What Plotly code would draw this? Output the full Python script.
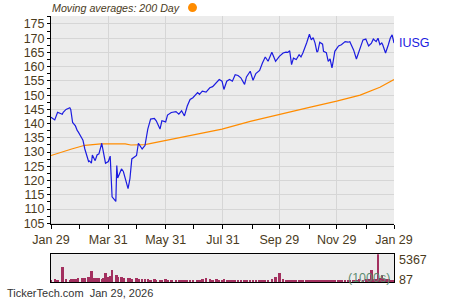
import plotly.graph_objects as go

price_dates = [
    "2025-01-29", "2025-02-02", "2025-02-05", "2025-02-10", "2025-02-11", "2025-02-14", "2025-02-18",
    "2025-02-19", "2025-02-21", "2025-02-24", "2025-02-26", "2025-02-27", "2025-03-03", "2025-03-04",
    "2025-03-06", "2025-03-10", "2025-03-11", "2025-03-13", "2025-03-14", "2025-03-17", "2025-03-19",
    "2025-03-21", "2025-03-24", "2025-03-26", "2025-03-28", "2025-03-31", "2025-04-02", "2025-04-04",
    "2025-04-08", "2025-04-09", "2025-04-10", "2025-04-14", "2025-04-16", "2025-04-21", "2025-04-23",
    "2025-04-25", "2025-04-30", "2025-05-02", "2025-05-06", "2025-05-09", "2025-05-12", "2025-05-15",
    "2025-05-19", "2025-05-21", "2025-05-25", "2025-05-27", "2025-05-31", "2025-06-02", "2025-06-06",
    "2025-06-11", "2025-06-14", "2025-06-17", "2025-06-20", "2025-06-23", "2025-06-26", "2025-06-29",
    "2025-07-04", "2025-07-06", "2025-07-09", "2025-07-13", "2025-07-17", "2025-07-20", "2025-07-24",
    "2025-07-27", "2025-07-30", "2025-08-01", "2025-08-04", "2025-08-07", "2025-08-10", "2025-08-13",
    "2025-08-16", "2025-08-19", "2025-08-23", "2025-08-25", "2025-08-29", "2025-09-01", "2025-09-04",
    "2025-09-08", "2025-09-11", "2025-09-14", "2025-09-17", "2025-09-21", "2025-09-25", "2025-09-29",
    "2025-10-03", "2025-10-06", "2025-10-08", "2025-10-10", "2025-10-12", "2025-10-14", "2025-10-17",
    "2025-10-20", "2025-10-22", "2025-10-24", "2025-10-28", "2025-10-31", "2025-11-02", "2025-11-04",
    "2025-11-06", "2025-11-08", "2025-11-09", "2025-11-11", "2025-11-14", "2025-11-15", "2025-11-18",
    "2025-11-20", "2025-11-22", "2025-11-24", "2025-11-25", "2025-11-27", "2025-12-01", "2025-12-04",
    "2025-12-08", "2025-12-11", "2025-12-13", "2025-12-17", "2025-12-20", "2025-12-23", "2025-12-27",
    "2025-12-30", "2026-01-02", "2026-01-05", "2026-01-07", "2026-01-10", "2026-01-12", "2026-01-14",
    "2026-01-16", "2026-01-17", "2026-01-20", "2026-01-23", "2026-01-25", "2026-01-27", "2026-01-29",
]
prices = [
    142.2, 141.3, 144.0, 143.3, 144.0, 145.0, 145.6,
    145.0, 140.4, 139.2, 137.5, 137.1, 134.8, 134.2,
    131.1, 126.7, 126.9, 126.1, 129.0, 127.0, 129.0,
    129.4, 133.1, 130.0, 126.1, 126.7, 128.6, 114.3,
    112.7, 125.3, 120.9, 124.1, 123.2, 117.2, 120.7,
    127.6, 128.8, 133.1, 131.1, 132.3, 138.1, 141.6,
    141.8, 141.0, 138.1, 141.0, 140.6, 143.0, 143.9,
    144.2, 143.3, 144.5, 142.7, 146.2, 148.5, 149.1,
    150.9, 150.3, 151.4, 151.1, 152.6, 153.0, 154.3,
    155.5, 154.9, 152.0, 154.9, 155.5, 154.9, 157.2,
    156.9, 156.1, 153.8, 156.4, 158.4, 155.2, 157.6,
    158.7, 161.3, 163.4, 161.9, 165.1, 161.9, 163.6,
    164.8, 165.1, 165.0, 165.6, 160.7, 163.0, 162.5,
    164.2, 163.4, 164.8, 168.3, 171.4, 169.4, 170.2,
    168.3, 165.1, 165.4, 168.6, 167.9, 165.4, 164.9,
    161.9, 162.7, 159.6, 161.3, 165.4, 167.3, 167.7,
    168.8, 168.6, 168.8, 165.9, 162.7, 165.9, 169.4,
    169.7, 167.3, 168.3, 169.7, 168.8, 170.0, 167.7,
    168.3, 167.7, 164.8, 167.7, 170.0, 171.2, 168.3,
]

ma_dates = [
    "2025-01-29", "2025-02-07", "2025-02-20", "2025-03-06", "2025-03-23", "2025-04-18",
    "2025-04-24", "2025-05-09", "2025-05-30", "2025-06-20", "2025-07-06", "2025-07-30",
    "2025-08-29", "2025-09-29", "2025-10-31", "2025-11-29", "2025-12-24", "2026-01-14",
    "2026-01-29",
]
ma_values = [
    128.8, 129.8, 131.1, 132.4, 132.9, 132.9,
    132.5, 132.6, 134.0, 135.5, 136.6, 138.1,
    140.8, 143.3, 145.7, 147.9, 150.0, 152.8,
    155.5,
]

volumes = [
    250, 450, 400, 2900, 500, 450, 400,
    500, 550, 600, 500, 650, 700, 650,
    800, 900, 750, 2100, 800, 700, 650,
    750, 600, 800, 1700, 900, 1200, 2300,
    1400, 1300, 1000, 900, 700, 800, 650,
    600, 700, 500, 550, 450, 500, 400,
    450, 400, 350, 400, 450, 400, 350,
    400, 350, 400, 350, 400, 350, 400,
    350, 400, 450, 800, 450, 400, 500,
    400, 350, 500, 400, 350, 300, 350,
    300, 300, 350, 300, 300, 250, 300,
    350, 300, 350, 400, 500, 900, 1700,
    600, 300, 250, 300, 250, 300, 250,
    350, 300, 300, 250, 350, 300, 300,
    350, 300, 400, 350, 300, 350, 300,
    350, 400, 350, 300, 350, 400, 350,
    400, 350, 400, 350, 400, 450, 400,
    500, 450, 2200, 600, 500, 5367, 700,
    1300, 600, 500, 450, 400, 350, 300,
]

x_tick_vals = ["2025-01-29", "2025-03-31", "2025-05-31", "2025-07-31", "2025-09-29", "2025-11-29", "2026-01-29"]
x_tick_text = ["Jan 29", "Mar 31", "May 31", "Jul 31", "Sep 29", "Nov 29", "Jan 29"]
x_minor_vals = ["2025-02-28", "2025-04-30", "2025-06-30", "2025-08-31", "2025-10-31", "2025-12-31"]
y_tick_vals = [105, 110, 115, 120, 125, 130, 135, 140, 145, 150, 155, 160, 165, 170, 175]
vol_labels = ["5367", "87"]

TXT = "#4a3b1c"
FONT = "Liberation Sans, Arial, sans-serif"
DAY_MS = 86400000

fig = go.Figure()
fig.add_trace(go.Scatter(x=ma_dates, y=ma_values, mode="lines",
                         line=dict(color="#ff8c00", width=1.2), xaxis="x", yaxis="y",
                         hoverinfo="skip"))
fig.add_trace(go.Scatter(x=price_dates, y=prices, mode="lines",
                         line=dict(color="#1c1ce0", width=1.2), xaxis="x", yaxis="y"))
fig.add_trace(go.Bar(x=price_dates, y=volumes, marker=dict(color="#a3305f", line=dict(width=0)),
                     width=2.6 * DAY_MS, xaxis="x2", yaxis="y2"))

xr = ["2025-01-29", "2026-01-29"]
fig.update_layout(
    width=450, height=300,
    margin=dict(l=51, r=56, t=16, b=16),
    paper_bgcolor="white", plot_bgcolor="#ececec",
    showlegend=False,
    font=dict(family=FONT, size=12, color=TXT),
    bargap=0,
    xaxis=dict(domain=[0, 1], anchor="y", type="date", range=xr,
               tickmode="array", tickvals=x_tick_vals, ticktext=x_tick_text,
               ticks="outside", ticklen=4, tickcolor="black", tickwidth=1,
               showgrid=True, gridcolor="#d6d6d6", gridwidth=1,
               showline=True, linecolor="black", linewidth=1,
               tickfont=dict(size=12.5, color=TXT),
               minor=dict(tickmode="array", tickvals=x_minor_vals, ticks="outside",
                          ticklen=4, tickcolor="black", showgrid=False),
               zeroline=False),
    yaxis=dict(domain=[0.2164, 1], anchor="x", range=[104.6, 177.8],
               tickmode="array", tickvals=y_tick_vals,
               ticks="outside", ticklen=3, tickcolor="black",
               showgrid=True, gridcolor="#d6d6d6", gridwidth=1,
               showline=True, linecolor="black", linewidth=1,
               tickfont=dict(size=12.5, color=TXT),
               minor=dict(dtick=2.5, tick0=105, ticks="outside", ticklen=3,
                          tickcolor="black", showgrid=False),
               zeroline=False),
    xaxis2=dict(domain=[0, 1], anchor="y2", type="date", range=xr,
                showticklabels=False, ticks="", showgrid=False,
                showline=True, linecolor="black", linewidth=1, mirror=True,
                zeroline=False),
    yaxis2=dict(domain=[0, 0.1045], anchor="x2", range=[0, 5367],
                showticklabels=False, ticks="", showgrid=False,
                showline=True, linecolor="black", linewidth=1, mirror=True,
                zeroline=False),
)

annotations = [
    dict(text="<i>Moving averages: 200 Day</i>", x=-1 / 343, y=1 + 8.5 / 268, xref="paper", yref="paper",
         xanchor="left", yanchor="middle", showarrow=False,
         font=dict(size=10.7, color=TXT)),
    dict(text="IUSG", x=1 + 3 / 343, y=1 - 27 / 268, xref="paper", yref="paper",
         xanchor="left", yanchor="middle", showarrow=False,
         font=dict(size=12.5, color="#1c1ce0")),
    dict(text=vol_labels[0], x=1 + 3 / 343, y=(284 - 262) / 268, xref="paper", yref="paper",
         xanchor="left", yanchor="middle", showarrow=False,
         font=dict(size=12.5, color=TXT)),
    dict(text=vol_labels[1], x=1 + 3 / 343, y=(284 - 281.5) / 268, xref="paper", yref="paper",
         xanchor="left", yanchor="middle", showarrow=False,
         font=dict(size=12.5, color=TXT)),
    dict(text="(1000s)", x=1 - 2 / 343, y=(284 - 280) / 268, xref="paper", yref="paper",
         xanchor="right", yanchor="middle", showarrow=False,
         font=dict(size=12.5, color="#5e8c72")),
    dict(text="TickerTech.com  Jan 29, 2026", x=-46 / 343, y=-11 / 268, xref="paper", yref="paper",
         xanchor="left", yanchor="middle", showarrow=False,
         font=dict(size=11, color="#333333")),
]
fig.update_layout(annotations=annotations)
fig.add_shape(type="circle", xref="paper", yref="paper",
              x0=1 - (394 - 188) / 343, x1=1 - (394 - 197) / 343,
              y0=1 + (16 - 12) / 268, y1=1 + (16 - 3) / 268,
              fillcolor="#ff8c00", line=dict(width=0))

fig.write_html("out.html")
